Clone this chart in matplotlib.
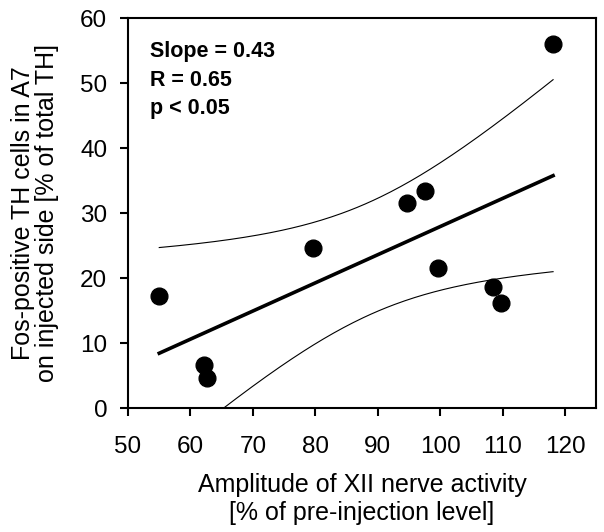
import matplotlib
matplotlib.use("Agg")
import matplotlib.pyplot as plt
import numpy as np

plt.rcParams['font.family'] = ['Liberation Sans', 'DejaVu Sans']

# Amplitude of XII nerve activity (% of pre-injection level)
amplitude = [55.0, 62.2, 62.6, 79.7, 94.7, 97.5, 99.6, 108.4, 109.8, 118.1]
# Fos-positive TH cells in A7 (% of total TH)
fos_th = [17.3, 6.6, 4.6, 24.6, 31.6, 33.4, 21.5, 18.7, 16.2, 56.0]

x = np.array(amplitude)
y = np.array(fos_th)
n = len(x)
slope, intercept = np.polyfit(x, y, 1)
resid = y - (slope * x + intercept)
s = np.sqrt(np.sum(resid ** 2) / (n - 2))
t_crit = 2.306  # t(0.975, df=8)
xs = np.linspace(x.min(), x.max(), 200)
fit = slope * xs + intercept
half = t_crit * s * np.sqrt(1.0 / n + (xs - x.mean()) ** 2 / np.sum((x - x.mean()) ** 2))

fig = plt.figure(figsize=(6.04, 5.32), dpi=100)
ax = fig.add_axes([0.212, 0.233, 0.775, 0.733])

ax.plot(xs, fit, color='black', lw=2.6, zorder=2)
ax.plot(xs, fit + half, color='black', lw=0.8, zorder=2)
ax.plot(xs, fit - half, color='black', lw=0.8, zorder=2)
ax.scatter(x, y, s=145, color='black', zorder=3)

ax.set_xlim(50, 125)
ax.set_ylim(0, 60)
ax.set_xticks(range(50, 121, 10))
ax.set_yticks(range(0, 61, 10))
ax.tick_params(direction='out', length=6, width=1.5, labelsize=17.5)
ax.tick_params(axis='x', pad=14)
ax.tick_params(axis='y', pad=9)
for sp in ax.spines.values():
    sp.set_linewidth(1.5)

ax.set_xlabel("Amplitude of XII nerve activity\n[% of pre-injection level]", fontsize=18,
              labelpad=11, linespacing=1.22)
ax.set_ylabel("Fos-positive TH cells in A7\non injected side [% of total TH]", fontsize=18,
              labelpad=15, linespacing=1.02)

ax.text(0.047, 0.94, "Slope = 0.43\nR = 0.65\np < 0.05", transform=ax.transAxes,
        fontsize=15.5, fontweight='bold', va='top', ha='left', linespacing=1.44)

fig.savefig("out.png", dpi=100)
